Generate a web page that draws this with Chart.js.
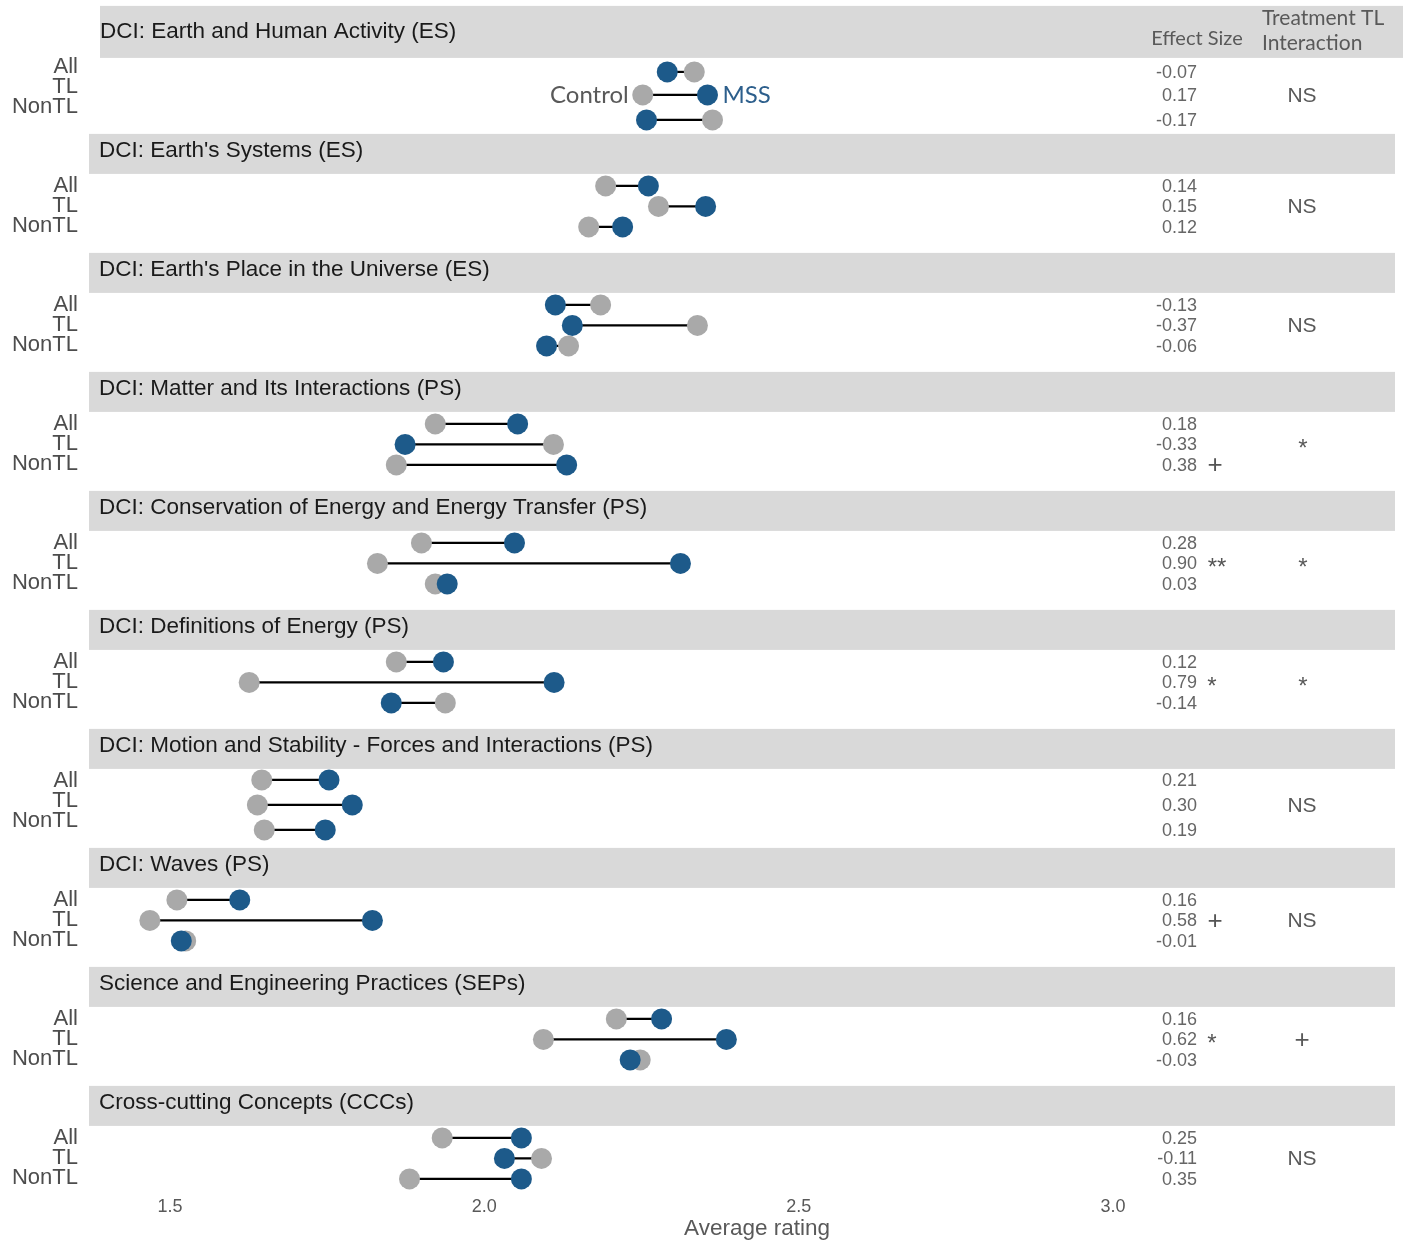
<!DOCTYPE html>
<html>
<head>
<meta charset="utf-8">
<title>Average rating by domain: Control vs MSS</title>
<script src="https://cdn.jsdelivr.net/npm/chart.js@4.4.1/dist/chart.umd.min.js"></script>
<style>
  html, body { margin: 0; padding: 0; background: #ffffff; }
  #wrap { width: 1406px; height: 1243px; }
  canvas { display: block; }
</style>
</head>
<body>
<div id="wrap"><canvas id="chart" width="1406" height="1243"></canvas></div>
<script>
// ---- data ----------------------------------------------------------------
const panelTitles = [
  "DCI: Earth and Human Activity (ES)",
  "DCI: Earth's Systems (ES)",
  "DCI: Earth's Place in the Universe (ES)",
  "DCI: Matter and Its Interactions (PS)",
  "DCI: Conservation of Energy and Energy Transfer (PS)",
  "DCI: Definitions of Energy (PS)",
  "DCI: Motion and Stability - Forces and Interactions (PS)",
  "DCI: Waves (PS)",
  "Science and Engineering Practices (SEPs)",
  "Cross-cutting Concepts (CCCs)"
];
const groups = ["All", "TL", "NonTL"];

// mean rating per panel, rows in the order of `groups`
const controlMeans = [
  [2.334, 2.252, 2.363],
  [2.193, 2.277, 2.166],
  [2.185, 2.339, 2.134],
  [1.922, 2.110, 1.860],
  [1.900, 1.830, 1.922],
  [1.860, 1.626, 1.938],
  [1.646, 1.639, 1.650],
  [1.511, 1.468, 1.525],
  [2.210, 2.094, 2.248],
  [1.933, 2.091, 1.881]
];
const mssMeans = [
  [2.291, 2.355, 2.258],
  [2.261, 2.352, 2.220],
  [2.113, 2.140, 2.099],
  [2.053, 1.874, 2.131],
  [2.048, 2.312, 1.941],
  [1.935, 2.111, 1.852],
  [1.753, 1.790, 1.747],
  [1.611, 1.822, 1.518],
  [2.282, 2.385, 2.232],
  [2.059, 2.032, 2.059]
];
const effectSizes = [
  ["-0.07", "0.17", "-0.17"],
  ["0.14", "0.15", "0.12"],
  ["-0.13", "-0.37", "-0.06"],
  ["0.18", "-0.33", "0.38"],
  ["0.28", "0.90", "0.03"],
  ["0.12", "0.79", "-0.14"],
  ["0.21", "0.30", "0.19"],
  ["0.16", "0.58", "-0.01"],
  ["0.16", "0.62", "-0.03"],
  ["0.25", "-0.11", "0.35"]
];
const effectSignificance = [
  ["", "", ""],
  ["", "", ""],
  ["", "", ""],
  ["", "", "+"],
  ["", "**", ""],
  ["", "*", ""],
  ["", "", ""],
  ["", "+", ""],
  ["", "*", ""],
  ["", "", ""]
];
const interaction = ["NS", "NS", "NS", "*", "*", "*", "NS", "NS", "+", "NS"];
const tickValues = [1.5, 2.0, 2.5, 3.0];

// ---- layout --------------------------------------------------------------
const PITCH = 119;                       // px per facet
const STRIP_H = 40;                      // facet strip height, px
const ROW_PX = [52, 72.5, 93];           // dot rows below facet top, px
const ROW_PX_OVERRIDE = { 0: [57, 80, 105], 6: [51, 76, 101] };
const BLUE = "#1d5a8a";
const GREY = "#a9a9a9";
const SANS = "'Liberation Sans', Arial, sans-serif";
const SOFT = "Lato, 'Open Sans', sans-serif";

function rowValue(p, r) {
  const px = (ROW_PX_OVERRIDE[p] || ROW_PX)[r];
  return p + px / PITCH;
}

const lineSets = [];
const ctrlPts = [];
const mssPts = [];
panelTitles.forEach((_, p) => {
  groups.forEach((g, r) => {
    const y = rowValue(p, r);
    lineSets.push({
      data: [{ x: controlMeans[p][r], y }, { x: mssMeans[p][r], y }],
      showLine: true,
      borderColor: "#000000",
      borderWidth: 2.2,
      pointRadius: 0,
      pointHoverRadius: 0,
      order: 2
    });
    ctrlPts.push({ x: controlMeans[p][r], y });
    mssPts.push({ x: mssMeans[p][r], y });
  });
});

const facetPlugin = {
  id: "facets",
  beforeDraw(chart) {
    const { ctx, scales } = chart;
    const ys = scales.y;
    const ca = chart.chartArea;
    ctx.save();
    ctx.fillStyle = "#ffffff";
    ctx.fillRect(0, 0, chart.width, chart.height);
    panelTitles.forEach((t, p) => {
      let top = ys.getPixelForValue(p);
      let bottom = top + STRIP_H;
      let left = ca.left, right = ca.right;
      if (p === 0) { top -= 9; bottom = ys.getPixelForValue(p) + 43; left += 11; right += 8; }
      ctx.fillStyle = "#d9d9d9";
      ctx.fillRect(left, top, right - left, bottom - top);
      ctx.fillStyle = "#1a1a1a";
      ctx.font = "22.5px " + SANS;
      ctx.textAlign = "left";
      ctx.textBaseline = "alphabetic";
      ctx.fillText(t, p === 0 ? 100 : 99, ys.getPixelForValue(p) + 23.5);
    });
    ctx.restore();
  },
  afterDraw(chart) {
    const { ctx, scales } = chart;
    const ys = scales.y, xs = scales.x;
    const ca = chart.chartArea;
    ctx.save();
    // group labels on the left
    ctx.font = "22px " + SANS;
    ctx.fillStyle = "#4d4d4d";
    ctx.textAlign = "right";
    ctx.textBaseline = "alphabetic";
    const labelBase = [58, 78.5, 98.5];
    panelTitles.forEach((_, p) => {
      const top = ys.getPixelForValue(p);
      groups.forEach((g, r) => ctx.fillText(g, 78, top + labelBase[r]));
    });
    // effect sizes, significance, interaction
    panelTitles.forEach((_, p) => {
      groups.forEach((g, r) => {
        const y = ys.getPixelForValue(rowValue(p, r));
        ctx.font = "18px " + SANS;
        ctx.fillStyle = "#666666";
        ctx.textAlign = "right";
        ctx.textBaseline = "middle";
        ctx.fillText(effectSizes[p][r], 1197, y + 1);
        const s = effectSignificance[p][r];
        if (s) {
          ctx.textAlign = "center";
          ctx.fillStyle = "#555555";
          if (s === "+") { ctx.font = "26px " + SANS; ctx.fillText(s, 1215, y + 1); }
          else { ctx.font = "24px " + SANS; ctx.fillText(s, s.length > 1 ? 1217 : 1212, y + 5); }
        }
      });
      const ym = ys.getPixelForValue(rowValue(p, 1));
      ctx.textAlign = "center";
      ctx.fillStyle = "#595959";
      const it = interaction[p];
      if (it === "NS") { ctx.font = "21px " + SANS; ctx.fillText(it, 1302, ym + 1); }
      else if (it === "+") { ctx.font = "26px " + SANS; ctx.fillText(it, 1302, ym + 1); }
      else { ctx.font = "24px " + SANS; ctx.fillText(it, 1303, ym + 5); }
    });
    // column headers in the first strip
    ctx.font = "20px " + SOFT;
    ctx.fillStyle = "#595959";
    ctx.textBaseline = "middle";
    ctx.textAlign = "center";
    ctx.fillText("Effect Size", 1197, 39);
    ctx.textAlign = "left";
    ctx.font = "21px " + SOFT;
    ctx.fillText("Treatment TL", 1262, 18);
    ctx.fillText("Interaction", 1262, 43);
    // series key beside the first TL pair
    const yk = ys.getPixelForValue(rowValue(0, 1));
    ctx.font = "24px " + SOFT;
    ctx.textAlign = "right";
    ctx.fillStyle = "#595959";
    ctx.fillText("Control", xs.getPixelForValue(controlMeans[0][1]) - 14, yk);
    ctx.textAlign = "left";
    ctx.fillStyle = "#2d5f8c";
    ctx.fillText("MSS", xs.getPixelForValue(mssMeans[0][1]) + 15, yk);
    // axis title
    ctx.font = "22.5px " + SANS;
    ctx.fillStyle = "#595959";
    ctx.textAlign = "center";
    ctx.fillText("Average rating", (ca.left + ca.right) / 2 + 15, 1229);
    ctx.restore();
  }
};

new Chart(document.getElementById("chart"), {
  type: "scatter",
  data: {
    datasets: [
      {
        label: "MSS",
        data: mssPts,
        backgroundColor: BLUE,
        borderWidth: 0,
        pointRadius: 10.5,
        pointHoverRadius: 10.5,
        order: 0
      },
      {
        label: "Control",
        data: ctrlPts,
        backgroundColor: GREY,
        borderWidth: 0,
        pointRadius: 10.5,
        pointHoverRadius: 10.5,
        order: 1
      },
      ...lineSets
    ]
  },
  options: {
    responsive: false,
    animation: false,
    devicePixelRatio: 1,
    layout: { autoPadding: false, padding: { left: 89, right: 11, top: 3, bottom: 0 } },
    plugins: { legend: { display: false }, tooltip: { enabled: false } },
    events: [],
    scales: {
      x: {
        type: "linear",
        min: 1.3712,
        max: 3.4486,
        grid: { display: false, drawTicks: false },
        border: { display: false },
        afterBuildTicks(scale) { scale.ticks = tickValues.map(v => ({ value: v })); },
        afterFit(scale) { scale.height = 50; },
        ticks: {
          padding: 3,
          color: "#595959",
          font: { family: SANS, size: 18 },
          callback: v => Number(v).toFixed(1)
        },
        title: { display: false }
      },
      y: {
        type: "linear",
        display: false,
        reverse: true,
        min: -0.1,
        max: 9.9
      }
    }
  },
  plugins: [facetPlugin]
});
</script>
</body>
</html>
